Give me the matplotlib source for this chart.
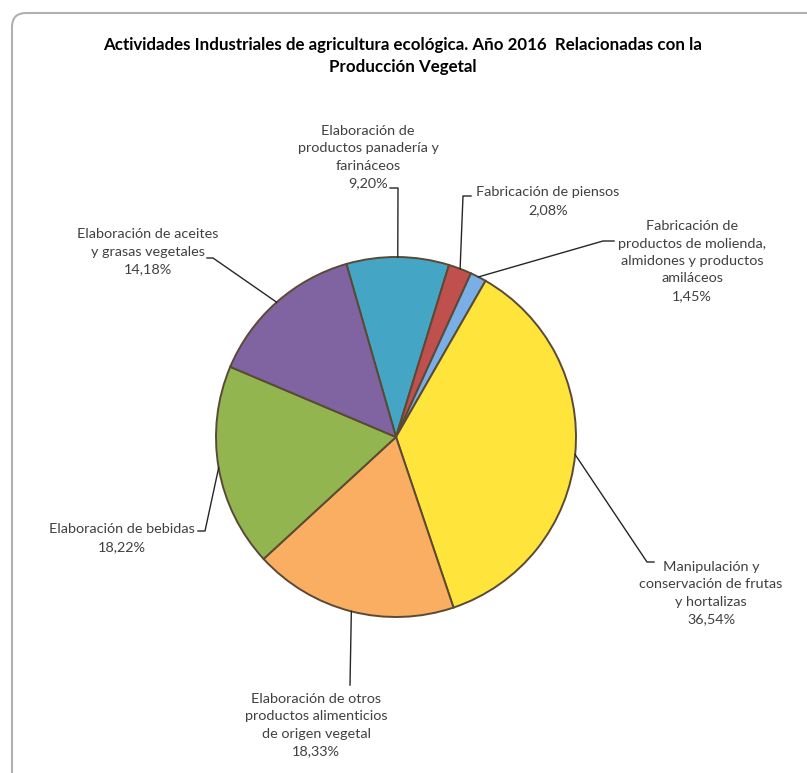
import matplotlib.pyplot as plt
import numpy as np
from matplotlib.patches import FancyBboxPatch

plt.rcParams['font.family'] = ['Lato', 'DejaVu Sans']

# data, clockwise from the top
labels = [
    "Elaboración de\nproductos panadería y\nfarináceos",
    "Fabricación de piensos",
    "Fabricación de\nproductos de molienda,\nalmidones y productos\namiláceos",
    "Manipulación y\nconservación de frutas\ny hortalizas",
    "Elaboración de otros\nproductos alimenticios\nde origen vegetal",
    "Elaboración de bebidas",
    "Elaboración de aceites\ny grasas vegetales",
]
shares = [9.20, 2.08, 1.45, 36.54, 18.33, 18.22, 14.18]
colors = ["#45A5C4", "#C0504D", "#79AEE6", "#FFE43C", "#F9AE62", "#93B550", "#8064A2"]

# label placement in pixels (x, y from top): text centre, elbow, line end
text_pos = [(368, 157), (548, 201), (692, 261), (711, 593), (316, 725), (122, 538), (148, 252)]
elbows = [(398, 188), (463, 196), (603, 241), (647, 562), (350, 685), (205, 531), (213, 258)]
ends = [(390, 188), (471, 196), (614, 241), (654, 562), (350, 685), (198, 531), (207, 258)]

cx, cy, r = 396, 437, 180

fig = plt.figure(figsize=(8.07, 7.73), dpi=100)
ax = fig.add_axes([0, 0, 1, 1])

# y axis runs downward (pixel coords), so counterclock=True turns clockwise on screen
wedges, _ = ax.pie(shares, colors=colors, startangle=-106, counterclock=True,
                   radius=r, center=(cx, cy),
                   wedgeprops=dict(edgecolor="#5A4A35", linewidth=1.4))
ax.set_xlim(0, 807)
ax.set_ylim(773, 0)
ax.set_aspect('equal')
ax.axis('off')

for w, lab, val, tp, el, en in zip(wedges, labels, shares, text_pos, elbows, ends):
    mid = np.deg2rad((w.theta1 + w.theta2) / 2)
    px, py = cx + r * np.cos(mid), cy + r * np.sin(mid)
    ax.plot([px, el[0], en[0]], [py, el[1], en[1]], color="#262626", lw=1.0)
    txt = lab + "\n" + f"{val:.2f}".replace(".", ",") + "%"
    ax.text(tp[0], tp[1], txt, ha='center', va='center', multialignment='center',
            fontsize=10.4, color="#404040", linespacing=1.55)

ax.text(403, 56, "Actividades Industriales de agricultura ecológica. Año 2016  Relacionadas con la\nProducción Vegetal",
        ha='center', va='center', multialignment='center', fontsize=12.2,
        fontweight='bold', color="#000000", linespacing=1.45)

border = FancyBboxPatch((12, 13), 820, 800, boxstyle="round,pad=0,rounding_size=14",
                        fill=False, edgecolor="#B0B0B0", linewidth=1.5, clip_on=False)
ax.add_patch(border)

fig.savefig("out.png", dpi=100, facecolor="white")
